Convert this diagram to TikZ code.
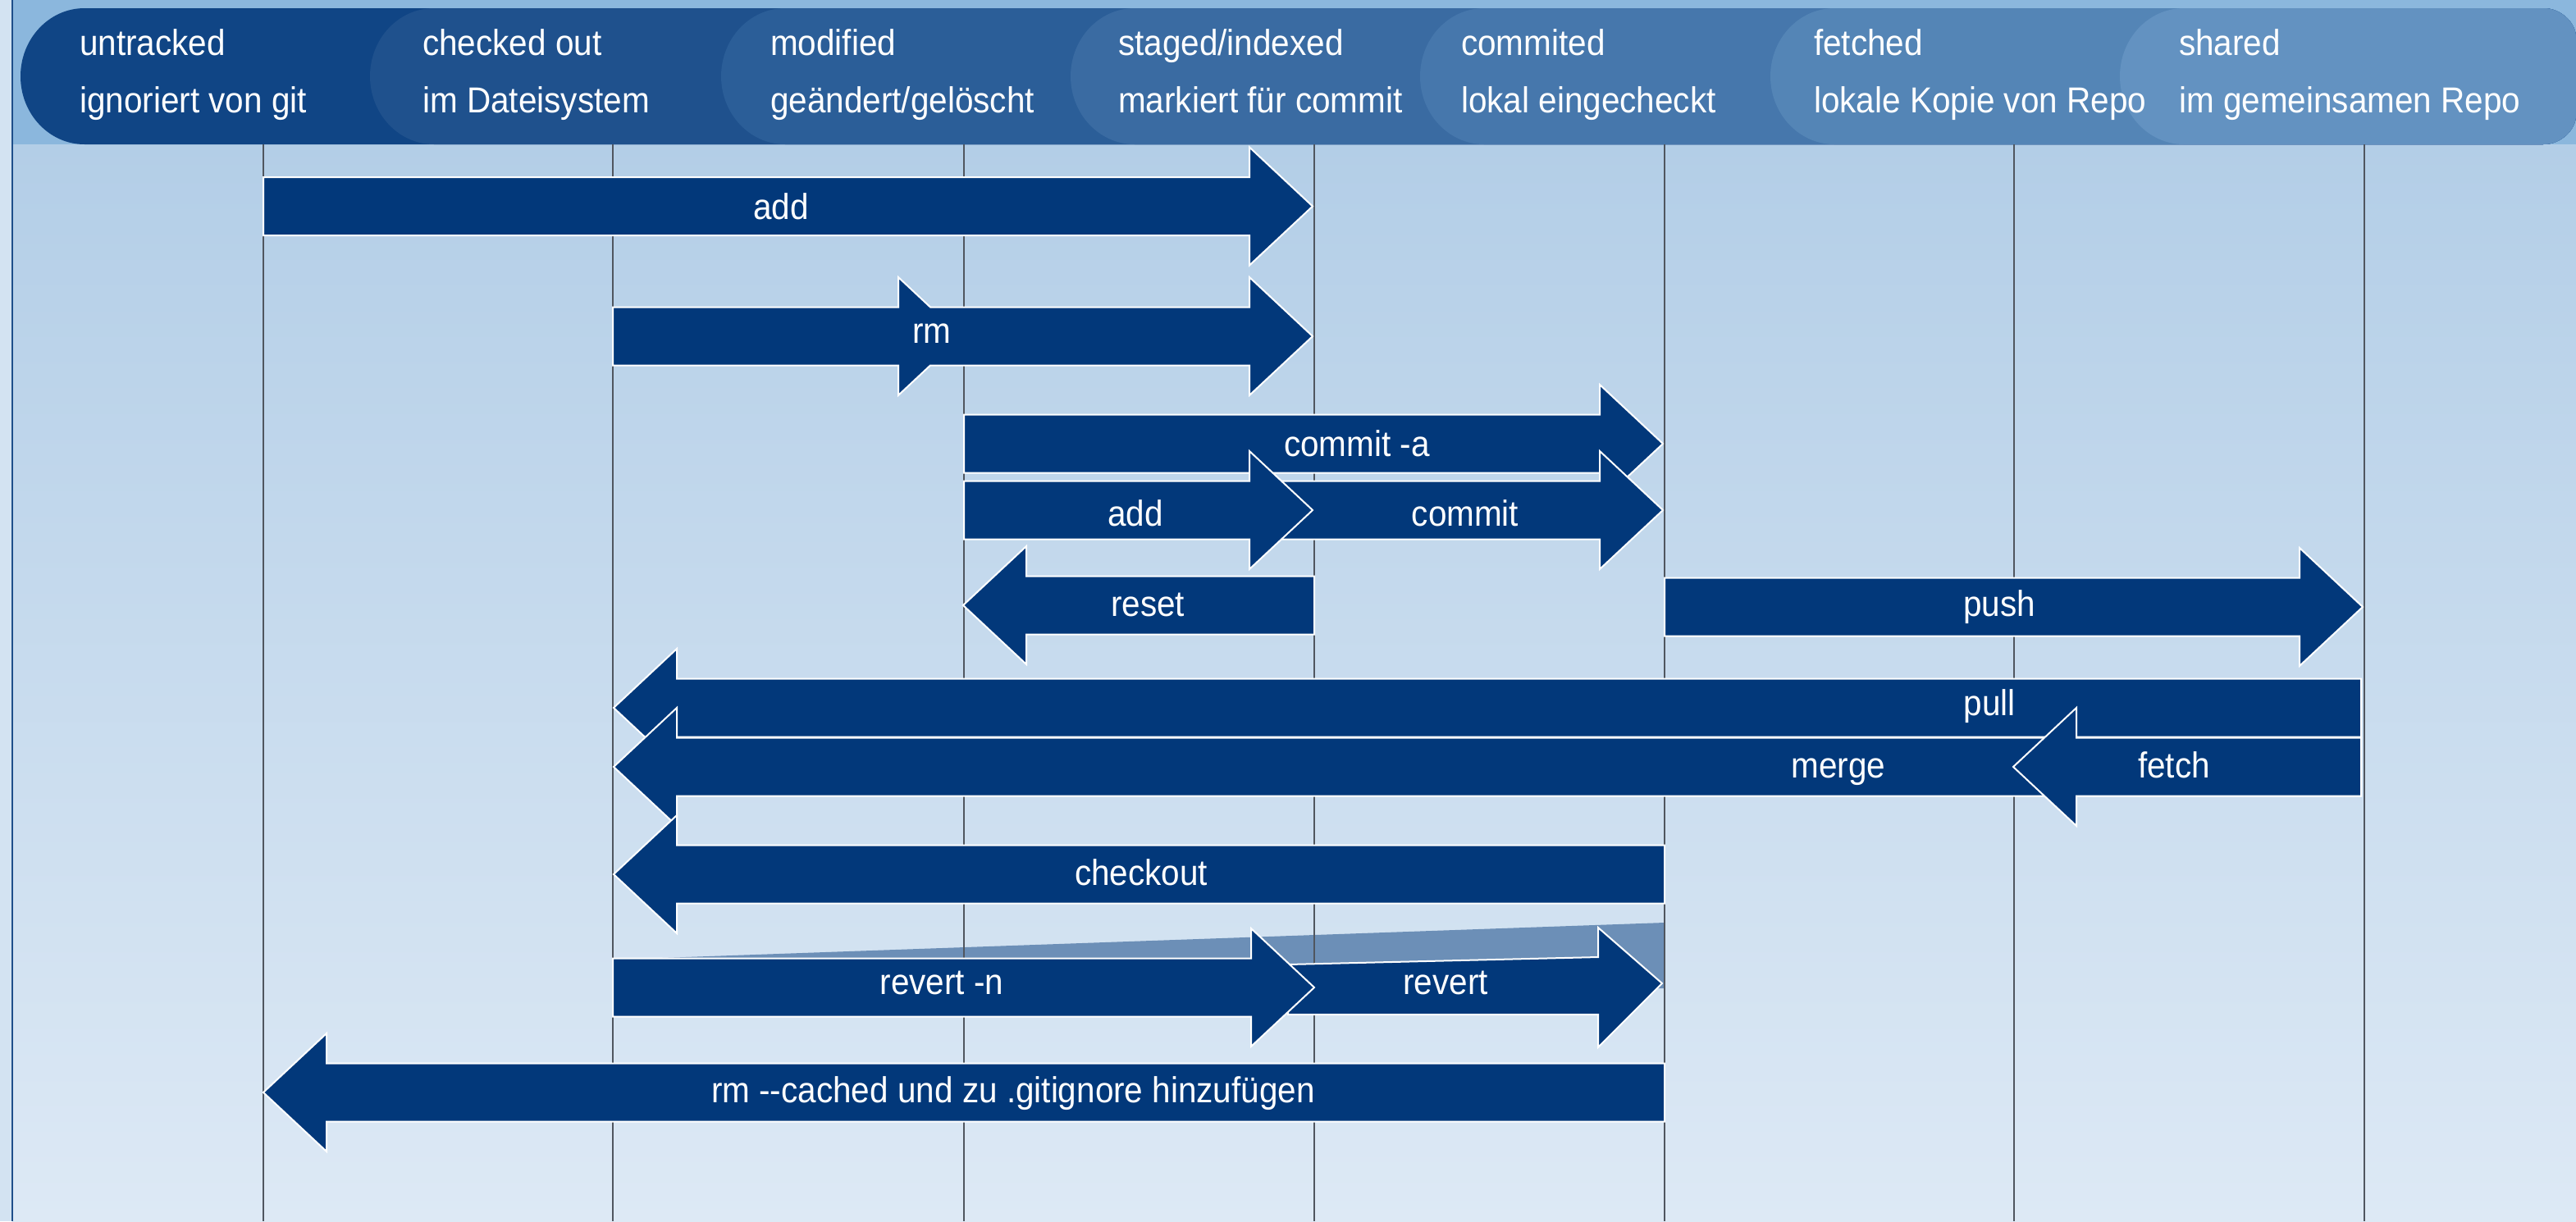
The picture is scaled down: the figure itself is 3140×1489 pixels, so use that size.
\documentclass[tikz,border=0pt]{standalone}
\usepackage{fontspec}
\setmainfont{Liberation Sans}[FakeStretch=0.92]
\definecolor{arrowblue}{HTML}{02387A}
\definecolor{bandc}{HTML}{8BB7DD}
\definecolor{bgtop}{HTML}{B3CEE7}
\definecolor{bgbot}{HTML}{DDE9F5}
\definecolor{stripc}{HTML}{D3E3F2}
\definecolor{borderc}{HTML}{1F4F8A}
\definecolor{capA}{HTML}{104585}
\definecolor{capB}{HTML}{1F518D}
\definecolor{capC}{HTML}{2B5E98}
\definecolor{capD}{HTML}{3A6BA2}
\definecolor{capE}{HTML}{4677AC}
\definecolor{capF}{HTML}{5485B6}
\definecolor{capG}{HTML}{6392C1}
\definecolor{shadowc}{HTML}{6C8FB7}
\definecolor{vlinec}{HTML}{50565F}
\tikzset{
  blockarrow/.style={fill=arrowblue, draw=white, line width=2pt, line join=miter},
  lbl/.style={text=white, font=\fontsize{44}{50}\selectfont, inner sep=0pt, text height=23pt, text depth=0pt, anchor=center},
  hdr/.style={text=white, font=\fontsize{44}{50}\selectfont, inner sep=0pt, anchor=base west},
  vline/.style={draw=vlinec, line width=1.5pt}
}
\newcommand\myRA[3]{%
  \filldraw[blockarrow] (#1,{#3-35.5}) -- ({#2-77},{#3-35.5}) -- ({#2-77},{#3-72}) -- (#2,#3) -- ({#2-77},{#3+72}) -- ({#2-77},{#3+35.5}) -- (#1,{#3+35.5}) -- cycle;}
\newcommand\myLA[3]{%
  \filldraw[blockarrow] (#2,{#3-35.5}) -- ({#1+77},{#3-35.5}) -- ({#1+77},{#3-72}) -- (#1,#3) -- ({#1+77},{#3+72}) -- ({#1+77},{#3+35.5}) -- (#2,{#3+35.5}) -- cycle;}
\begin{document}
\begin{tikzpicture}[x=1pt,y=-1pt]
\useasboundingbox (0,0) rectangle (3140,1489);
% background
\fill[stripc] (0,0) rectangle (15,1489);
\shade[top color=bgtop, bottom color=bgbot] (15,176) rectangle (3140,1489);
\fill[bandc] (15,0) rectangle (3140,176);
\draw[borderc, line width=2pt] (15,0) -- (15,1489);
% header capsules
\foreach \L/\c in {25/capA, 451/capB, 879/capC, 1305/capD, 1731/capE, 2158/capF, 2584/capG} {
  \fill[\c] ({\L+78},10) .. controls ({\L+34.9},10) and (\L,47.2) .. (\L,93)
     .. controls (\L,138.8) and ({\L+34.9},176) .. ({\L+78},176)
     -- (3100,176) .. controls (3122,176) and (3140,158) .. (3140,140)
     -- (3140,46) .. controls (3140,28) and (3122,10) .. (3100,10) -- cycle;
}
\node[hdr] (h1a) at (97,67) {untracked};
\node[hdr] (h1b) at (97,137) {ignoriert von git};
\node[hdr] (h2a) at (515,67) {checked out};
\node[hdr] (h2b) at (515,137) {im Dateisystem};
\node[hdr] (h3a) at (939,67) {modified};
\node[hdr] (h3b) at (939,137) {geändert/gelöscht};
\node[hdr] (h4a) at (1363,67) {staged/indexed};
\node[hdr] (h4b) at (1363,137) {markiert für commit};
\node[hdr] (h5a) at (1781,67) {commited};
\node[hdr] (h5b) at (1781,137) {lokal eingecheckt};
\node[hdr] (h6a) at (2211,67) {fetched};
\node[hdr] (h6b) at (2211,137) {lokale Kopie von Repo};
\node[hdr] (h7a) at (2656,67) {shared};
\node[hdr] (h7b) at (2656,137) {im gemeinsamen Repo};
% shadow of revert
\fill[shadowc] (807,1168) -- (2029,1125) -- (2029,1205) -- (1526,1205) -- cycle;
% vertical lines
\foreach \x in {321,747,1175,1602,2029,2455,2882} \draw[vline] (\x,176) -- (\x,1489);
% arrows
\myRA{321}{1600}{251.5}
\filldraw[blockarrow] (747,374.5) -- (1095,374.5) -- (1095,338) -- (1134,374.5) -- (1523,374.5) -- (1523,338) -- (1600,410) -- (1523,482) -- (1523,445.5) -- (1134,445.5) -- (1095,482) -- (1095,445.5) -- (747,445.5) -- cycle;
\myRA{1175}{2027}{541}
\myRA{1560}{2027}{622}
\myRA{1175}{1600}{622}
\myLA{1174}{1602}{738}
\myRA{2029}{2880}{740}
\myLA{748}{2878}{863}
\myLA{748}{2878}{935}
\myLA{2454}{2878}{935}
\myLA{748}{2029}{1066}
\filldraw[blockarrow] (1570,1176) -- (1948,1167) -- (1948,1131) -- (2026,1199) -- (1948,1277) -- (1948,1237) -- (1570,1237) -- cycle;
\myRA{747}{1602}{1204}
\myLA{321}{2029}{1332}
% labels
\node[lbl] (l-add) at (952,256) {add};
\node[lbl] (l-rm) at (1136,407) {rm};
\node[lbl] (l-commita) at (1654,545) {commit -a};
\node[lbl] (l-add2) at (1384,630) {add};
\node[lbl] (l-commit) at (1786,630) {commit};
\node[lbl] (l-reset) at (1399,740) {reset};
\node[lbl] (l-push) at (2437,740) {push};
\node[lbl] (l-pull) at (2425,861) {pull};
\node[lbl] (l-merge) at (2241,937) {merge};
\node[lbl] (l-fetch) at (2650,937) {fetch};
\node[lbl] (l-checkout) at (1391,1068) {checkout};
\node[lbl] (l-revertn) at (1148,1201) {revert -n};
\node[lbl] (l-revert) at (1762,1201) {revert};
\node[lbl] (l-rmcached) at (1235,1333) {rm -{}-cached und zu .gitignore hinzufügen};
\end{tikzpicture}
\end{document}
